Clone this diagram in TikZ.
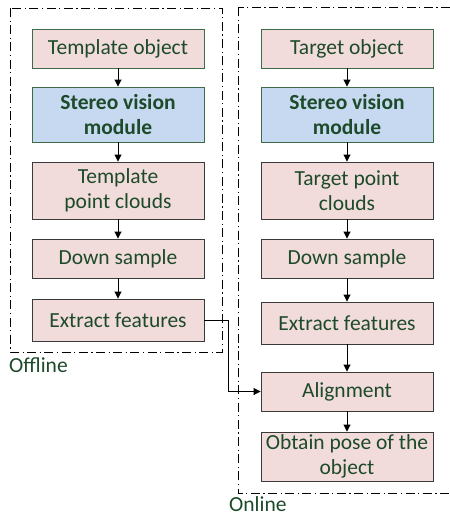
\documentclass[tikz,border=0pt]{standalone}
\usepackage{fontspec}
\setmainfont{Carlito}
\usetikzlibrary{arrows.meta}
\definecolor{pinkfill}{HTML}{F2DCDB}
\definecolor{bluefill}{HTML}{C6D9F0}
\definecolor{txtgreen}{HTML}{1D4A2A}
\definecolor{greenborder}{HTML}{3E6B47}
\definecolor{grayborder}{HTML}{3A3A3A}
\tikzset{
  box/.style={draw=grayborder, line width=0.9pt, fill=pinkfill, minimum width=172pt, align=center,
    text=txtgreen, font=\fontsize{21.5}{25}\selectfont, inner sep=0pt},
  topbox/.style={box, draw=greenborder},
  stereobox/.style={box, draw=greenborder, fill=bluefill, font=\fontsize{21.5}{25}\selectfont\bfseries},
  group/.style={draw=black, line width=0.9pt, dash pattern=on 9pt off 3.5pt on 1.2pt off 3.5pt},
  conn/.style={draw=black, line width=0.9pt, -{Triangle[length=7pt,width=7pt]}},
  lbl/.style={text=txtgreen, font=\fontsize{21.5}{25}\selectfont, inner sep=0pt, anchor=west}
}
\begin{document}
\begin{tikzpicture}[x=1pt,y=-1pt]
\useasboundingbox (0,0) rectangle (450,517);
\clip (0,0) rectangle (450,517);
% groups
\draw[group] (10,8) rectangle (222,352);
\draw[group] (238,7) rectangle (460,493);
\node[lbl] (off) at (9,365) {Offline};
\node[lbl] (on) at (229,504.5) {Online};
% left column
\node[topbox, minimum height=39pt] (l1) at (118,48.5) {Template object};
\node[stereobox, minimum height=55pt] (l2) at (118,114.5) {Stereo vision\\module};
\node[box, minimum height=57pt] (l3) at (118,190.5) {Template\\point clouds};
\node[box, minimum height=39pt] (l4) at (118,258.5) {Down sample};
\node[box, minimum height=42pt] (l5) at (118,320) {Extract features};
% right column
\node[topbox, minimum height=39pt] (r1) at (347,48.5) {Target object};
\node[stereobox, minimum height=55pt] (r2) at (347,114.5) {Stereo vision\\module};
\node[box, minimum height=57pt] (r3) at (347,190.5) {Target point\\clouds};
\node[box, minimum height=39pt] (r4) at (347,258.5) {Down sample};
\node[box, minimum height=42pt] (r5) at (347,323) {Extract features};
\node[box, minimum height=39pt] (r6) at (347,391.5) {Alignment};
\node[box, minimum height=49pt] (r7) at (347,456.5) {Obtain pose of the\\object};
% connectors
\draw[conn] (l1) -- (l2);
\draw[conn] (l2) -- (l3);
\draw[conn] (l3) -- (l4);
\draw[conn] (l4) -- (l5);
\draw[conn] (r1) -- (r2);
\draw[conn] (r2) -- (r3);
\draw[conn] (r3) -- (r4);
\draw[conn] (r4) -- (r5);
\draw[conn] (r5) -- (r6);
\draw[conn] (r6) -- (r7);
\coordinate (bend) at (228,0);
\draw[conn] (l5.east) -- (l5.east -| bend) -- (r6.west -| bend) -- (r6.west);
\end{tikzpicture}
\end{document}
